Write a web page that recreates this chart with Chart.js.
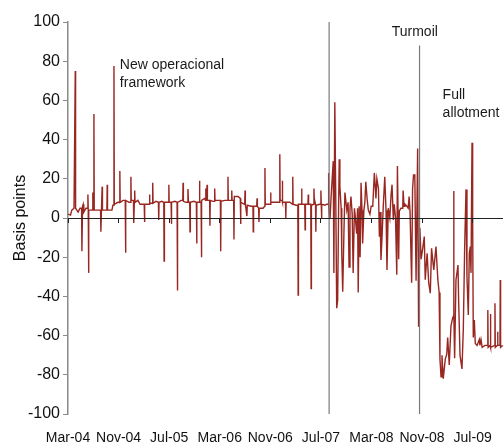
<!DOCTYPE html>
<html>
<head>
<meta charset="utf-8">
<script src="https://cdn.jsdelivr.net/npm/chart.js@4.4.1/dist/chart.umd.min.js"></script>
<style>
  html, body { margin: 0; padding: 0; background: #fff; }
  canvas { display: block; }
</style>
</head>
<body>
<canvas id="chart" width="503" height="445"></canvas>
<script>
// DATA (x = months since Mar-04, y = basis points)
const months = [
  0.0, 0.4, 0.6, 0.95, 1.1, 1.15, 1.2, 1.6, 1.9, 2.15,
  2.2, 2.3, 2.4, 2.5, 2.85, 3.1, 3.15, 3.2, 3.25, 3.3,
  3.5, 3.85, 3.9, 3.95, 4.05, 4.1, 4.15, 4.75, 5.15, 5.2,
  5.3, 5.4, 5.45, 6.15, 6.2, 6.25, 6.95, 7.1, 7.22, 7.27,
  7.32, 7.9, 8.15, 8.2, 8.25, 8.7, 9.05, 9.1, 9.15, 9.65,
  9.9, 9.95, 10.0, 10.35, 10.4, 10.5, 10.55, 10.6, 11.05, 11.4,
  11.85, 12.05, 12.1, 12.15, 12.65, 12.85, 12.9, 12.95, 13.35, 13.4,
  13.45, 13.9, 14.3, 14.35, 14.4, 14.85, 15.15, 15.2, 15.25, 15.7,
  15.9, 15.95, 16.0, 16.3, 16.35, 16.4, 16.9, 17.25, 17.3, 17.35,
  17.9, 18.15, 18.2, 18.25, 18.65, 18.9, 18.97, 19.05, 19.25, 19.3,
  19.35, 19.9, 20.3, 20.35, 20.4, 20.75, 20.8, 20.85, 21.05, 21.1,
  21.15, 21.6, 21.75, 21.8, 21.85, 21.95, 22.0, 22.05, 22.4, 22.45,
  22.5, 22.95, 23.15, 23.2, 23.25, 23.7, 24.1, 24.15, 24.2, 24.8,
  25.25, 25.3, 25.35, 25.85, 25.9, 25.95, 26.2, 26.25, 26.3, 26.9,
  27.25, 27.3, 27.35, 27.95, 28.0, 28.05, 28.3, 28.35, 28.95, 29.25,
  29.3, 29.35, 29.85, 29.9, 29.95, 30.15, 30.2, 30.25, 30.85, 31.1,
  31.15, 31.2, 31.7, 32.0, 32.05, 32.1, 32.75, 33.05, 33.45, 33.5,
  33.55, 33.85, 33.9, 33.95, 34.4, 34.45, 34.5, 35.1, 35.5, 35.55,
  35.6, 36.05, 36.35, 36.4, 36.45, 36.9, 36.95, 37.0, 37.45, 37.5,
  37.55, 37.95, 38.0, 38.05, 38.4, 38.45, 38.5, 38.85, 38.9, 38.95,
  39.15, 39.2, 39.25, 39.8, 39.95, 40.0, 40.05, 40.1, 40.15, 40.65,
  40.9, 41.15, 41.2, 41.25, 41.35, 41.45, 41.6, 41.95, 42.05, 42.2,
  42.35, 42.5, 42.65, 42.8, 42.9, 43.0, 43.2, 43.3, 43.45, 43.65,
  43.8, 44.1, 44.3, 44.45, 44.6, 44.75, 44.95, 45.1, 45.3, 45.4,
  45.65, 45.8, 45.9, 46.05, 46.2, 46.35, 46.5, 46.6, 46.8, 46.95,
  47.1, 47.3, 47.5, 47.75, 47.95, 48.2, 48.45, 48.6, 48.7, 48.85,
  49.1, 49.25, 49.35, 49.5, 49.65, 49.85, 50.1, 50.3, 50.45, 50.65,
  50.9, 51.1, 51.25, 51.45, 51.6, 51.8, 52.0, 52.1, 52.3, 52.4,
  52.65, 52.95, 53.0, 53.15, 53.3, 53.6, 53.8, 53.95, 54.1, 54.35,
  54.5, 54.65, 54.85, 55.05, 55.3, 55.45, 55.65, 55.85, 56.1, 56.35,
  56.5, 56.8, 57.05, 57.3, 57.5, 57.85,
  58.2, 58.5, 58.7, 58.83, 59.0, 59.15, 59.35, 59.67, 59.9, 60.05,
  60.3, 60.57, 60.84, 60.97, 61.0, 61.05, 61.15, 61.36, 61.52, 61.68,
  61.79, 62.0, 62.31, 62.52, 62.74, 62.95, 63.1, 63.31, 63.47, 63.63,
  63.74, 63.9, 64.0, 64.1, 64.26, 64.42, 64.7, 65.05, 65.15, 65.32,
  65.5, 65.95, 66.35, 66.4, 66.45, 66.77, 66.82, 66.86, 67.48, 67.53,
  67.58, 67.9, 67.95, 68.0, 68.32, 68.37, 68.42, 68.75
];

const spread = [
  2, 1.5, 4, 5, 5, 75, 5, 3, 5, 5,
  -17, 6, 7, 3, 5, 5, 12, 4, -28, 4,
  4, 4, 13, 4, 4, 53, 4, 4, 4, -7,
  5, 16, 4, 4, 17, 4, 4, 6.5, 6.5, 77.5,
  7, 8, 8, 24, 8, 9, 9, -17.7, 9, 8,
  8, 21, 9, 9, -2.6, 9, 14, 8, 9, 7,
  7, 7, -2, 7, 7, 7, 12, 7.5, 7.5, 18,
  7.5, 8.5, 8, -1, 8, 8.5, 8, -22, 8, 8,
  8, 17, 8, 8, -3, 8, 8.5, 8, -37, 8,
  9, 9, 18, 8.5, 8, 8, 14.8, 8, 8, -7,
  8, 8.5, 8, -13, 8, 8, 19, 8, 8, -20,
  9, 10, 9, 15, 9, 9, 17, 9, 9, -4,
  9, 8.5, 8.5, 15, 9, 9, 9, -17, 8.5, 9,
  9, 21, 9, 9, 14, 9, 9, -11, 11, 11,
  10, -3, 8, 7, 14, 7, 1, 6.5, 6, 6,
  -7, 6, 6, 10, 6, 5, -2, 5, 5, 6,
  25.5, 7, 7, 7, 13, 8, 8, 8, 8, 32.5,
  9, 9, 19, 8, 8, 0, 8, 8, 7, 21,
  7, 6.5, 6.5, -39.3, 7, 7, 15, 7, 7, -6,
  7, 7, 12, 7, 7, -36, 6.5, 7, 15, 10,
  7, -7, 6.5, 7, 7, 14, 7, 0, 7, 6.5,
  7, 7, 23, 7, 0, 0, 10, 29, -28, 59,
  10, -46, -42, 5, 30, 16, 5, -18, -37.6, -6,
  13, 4, 8, -25, 5, 11, 2, -28, 5, 2,
  -8, 5, -38, 6, -20, 18, 4, -13, 4, 8,
  18.5, 10, 4, 2, 6, 6, 23, 16, 10, 20,
  15, -9.5, 3, -21.4, -11, 5, 21, 4, -26.5, 5,
  0, 12, 17, -1, 7, 0, -29, 26.5, -21, 3.5,
  5, 5, 14, 6, 7, 6, 5, 11, 3, -33,
  15, 22, 22, -32, 35.5, -55.5, -5, -21, -15.5, -9.5,
  -31.5, -18, -33, -38.4, -15.5, -26.5,
  -14.6, -31.6, -38, -72, -81, -70, -82, -72, -69.6, -61,
  -75, -55, -51, -50, 13.8, -50, -71.5, -31.6, -28, -24,
  -43, -70, -77, -57, -14.6, 14.6, -30, -49.5, -18, -14.6,
  -28, 38.4, -1, -61, -52, -64, -65, -62, -65, -62,
  -66, -65, -65, -47, -66, -65, -49, -66, -65, -43.5,
  -66, -65, -58, -65, -65, -31.6, -66, -65
];

const tickLabels = ["Mar-04", "Nov-04", "Jul-05", "Mar-06", "Nov-06", "Jul-07", "Mar-08", "Nov-08", "Jul-09"];
const tickMonths = [0, 8, 16, 24, 32, 40, 48, 56, 64];

// event markers (month, top of line)
const eventMonths = [41.3, 55.6];
const eventTops = [100, 88];

// text notes, placed in data units
const notes = [
  { x: 8.2, y: [78, 68.9], lines: ["New operacional", "framework"] },
  { x: 51.2, y: [95], lines: ["Turmoil"] },
  { x: 59.25, y: [62.8, 53.6], lines: ["Full", "allotment"] }
];

const X_MAX = 68.8;
const RED = "#982621";
const FONT = "'Liberation Sans', Arial, sans-serif";

Chart.defaults.font.family = FONT;

const notesPlugin = {
  id: "notes",
  afterDatasetsDraw(c) {
    const ctx = c.ctx;
    const xs = c.scales.x, ys = c.scales.y;
    ctx.save();
    ctx.font = `14px ${FONT}`;
    ctx.fillStyle = "#1a1a1a";
    ctx.textAlign = "left";
    ctx.textBaseline = "middle";
    notes.forEach(n => {
      n.lines.forEach((t, i) => {
        ctx.fillText(t, xs.getPixelForValue(n.x), ys.getPixelForValue(n.y[i]));
      });
    });
    ctx.restore();
  }
};

const fixedTicks = s => { s.ticks = tickMonths.map(v => ({ value: v })); };

const datasets = [
  {
    data: months.map((m, i) => ({ x: m, y: spread[i] })),
    borderColor: RED,
    borderWidth: 1.4,
    pointRadius: 0,
    tension: 0,
    order: 1
  }
];

eventMonths.forEach((m, i) => {
  datasets.push({
    data: [{ x: m, y: eventTops[i] }, { x: m, y: -100 }],
    borderColor: "#7a7a7a",
    borderWidth: 1.2,
    pointRadius: 0,
    order: 0
  });
});

new Chart(document.getElementById("chart"), {
  type: "line",
  data: { datasets },
  options: {
    responsive: false,
    animation: false,
    devicePixelRatio: 1,
    layout: { padding: { top: 22, right: 0, bottom: 0, left: 0 } },
    plugins: { legend: { display: false }, tooltip: { enabled: false } },
    scales: {
      x: {
        type: "linear",
        min: 0,
        max: X_MAX,
        position: "bottom",
        afterBuildTicks: fixedTicks,
        afterFit: s => { s.height = 31; s.paddingLeft = 0; s.paddingRight = 0; },
        border: { display: false },
        grid: { display: false, drawTicks: false },
        ticks: {
          padding: 16,
          maxRotation: 0,
          autoSkip: false,
          color: "#111",
          font: { size: 14 },
          callback: (v, i) => tickLabels[i]
        }
      },
      xZero: {
        type: "linear",
        axis: "x",
        min: 0,
        max: X_MAX,
        position: { y: 0 },
        afterBuildTicks: fixedTicks,
        afterFit: s => { s.paddingLeft = 0; s.paddingRight = 0; },
        border: { color: "#222", width: 1, z: 1 },
        grid: { drawOnChartArea: false, color: "#222", tickLength: 4, z: 1 },
        ticks: { display: false }
      },
      y: {
        min: -100,
        max: 100,
        afterFit: s => { s.width = 68; },
        border: { color: "#8a8a8a", width: 1.5 },
        grid: { drawOnChartArea: false, color: "#8a8a8a", tickLength: 5 },
        ticks: { stepSize: 20, padding: 3, color: "#111", font: { size: 16 } },
        title: {
          display: true,
          text: "Basis points",
          color: "#111",
          font: { size: 16 },
          padding: { top: 11, bottom: 0 }
        }
      }
    }
  },
  plugins: [notesPlugin]
});
</script>
</body>
</html>
